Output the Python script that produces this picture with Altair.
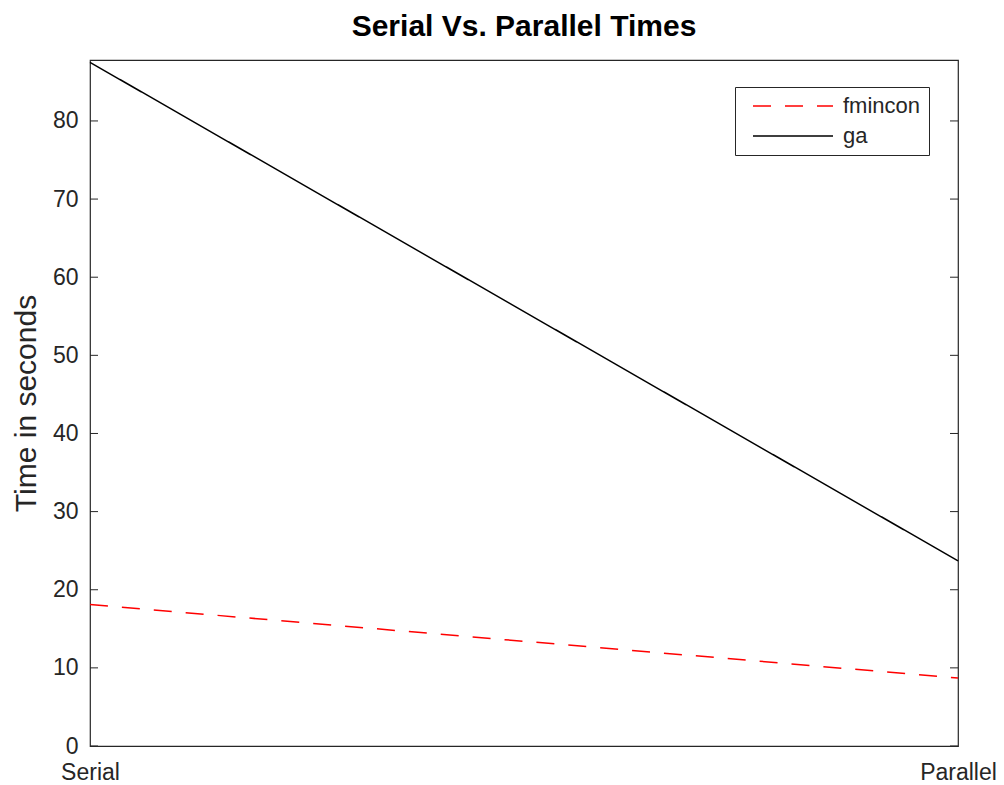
import altair as alt
import pandas as pd

methods = ["Serial", "Parallel"]
fmincon_times = [18.1, 8.7]
ga_times = [87.5, 23.7]
series_names = ["fmincon", "ga"]
y_ticks = [0, 10, 20, 30, 40, 50, 60, 70, 80]
y_max = 87.8

W, H = 868, 686
FONT = "Liberation Sans"
AX = "#262626"

rows = []
for m, v in zip(methods, fmincon_times):
    rows.append({"method": m, "time": v, "series": series_names[0]})
for m, v in zip(methods, ga_times):
    rows.append({"method": m, "time": v, "series": series_names[1]})
df = pd.DataFrame(rows)
ticks_df = pd.DataFrame({"t": y_ticks})

yscale = alt.Scale(domain=[0, y_max], nice=False, zero=True)

lines = alt.Chart(df).mark_line(strokeWidth=1.5).encode(
    x=alt.X("method:N", sort=methods,
            scale=alt.Scale(type="point", padding=0),
            axis=alt.Axis(title=None, labelAngle=0, ticks=False, domain=False,
                          labelFontSize=23, labelPadding=15, labelColor=AX,
                          labelFont=FONT)),
    y=alt.Y("time:Q", scale=yscale,
            axis=alt.Axis(title="Time in seconds", values=y_ticks, ticks=False,
                          domain=False, grid=False, labelFontSize=23,
                          labelPadding=12, labelColor=AX, labelFont=FONT,
                          titleFontSize=30, titleFontWeight="normal",
                          titleColor=AX, titleFont=FONT, titlePadding=11)),
    color=alt.Color("series:N", sort=series_names,
                    scale=alt.Scale(domain=series_names, range=["#ff0000", "#000000"]),
                    legend=alt.Legend(title=None, orient="none", legendX=645, legendY=27,
                                      symbolType="M-8,0L8,0", symbolSize=100,
                                      symbolStrokeWidth=1.5, labelFontSize=22,
                                      labelFont=FONT, labelColor=AX, labelOffset=39,
                                      strokeColor=AX, fillColor="white", padding=8,
                                      rowPadding=8, symbolOffset=39)),
    strokeDash=alt.StrokeDash("series:N", sort=series_names,
                              scale=alt.Scale(domain=series_names, range=[[18, 14], [1, 0]]),
                              legend=None),
)

left_ticks = alt.Chart(ticks_df).mark_rule(color=AX, strokeWidth=1).encode(
    y=alt.Y("t:Q", scale=yscale), x=alt.value(0), x2=alt.value(8))
right_ticks = alt.Chart(ticks_df).mark_rule(color=AX, strokeWidth=1).encode(
    y=alt.Y("t:Q", scale=yscale), x=alt.value(W - 8), x2=alt.value(W))

chart = alt.layer(left_ticks, right_ticks, lines).properties(
    width=W, height=H,
    title=alt.Title("Serial Vs. Parallel Times", fontSize=30, fontWeight="bold",
                    font=FONT, color="#000000", anchor="middle", offset=17),
    autosize=alt.AutoSizeParams(type="none"),
    padding={"left": 82, "top": 52, "right": 38, "bottom": 42},
).configure(background="white").configure_view(stroke=AX, strokeWidth=1.2)

chart.save("out.html", embed_options={"renderer": "svg", "actions": False})
